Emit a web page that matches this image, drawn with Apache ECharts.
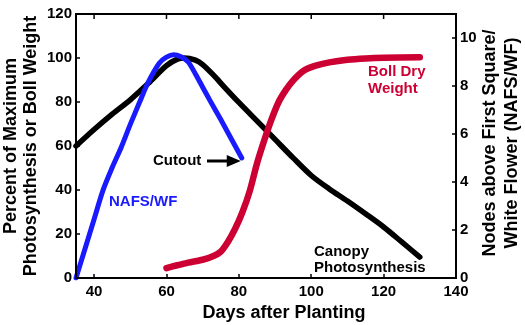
<!DOCTYPE html>
<html>
<head>
<meta charset="utf-8">
<script src="https://cdn.jsdelivr.net/npm/echarts@6/dist/echarts.min.js"></script>
<style>
  html, body { margin: 0; padding: 0; background: #fff; }
  #chart { width: 525px; height: 325px; }
</style>
</head>
<body>
<div id="chart"></div>
<script>
// Days after planting vs. % of maximum (left axis) and nodes above first square / white flower (right axis)
const canopyPhotosynthesis = [
  [35, 60], [40, 67.5], [45, 74.5], [50, 81], [55, 88.5], [60, 96.5], [63, 99.5],
  [65, 100], [68, 99], [70, 97], [73, 92.2], [76, 86.8], [80, 79.8], [85, 71.4],
  [90, 63], [95, 54.6], [100, 46.6], [105, 40.5], [110, 35], [115, 29.2],
  [120, 23.2], [125, 16.4], [130, 9.5]
];
const nafsWf = [
  [35, 0], [40, 2.45], [42.5, 3.67], [45, 4.6], [47.5, 5.45], [50, 6.4], [52.5, 7.3],
  [55, 8.17], [58, 8.95], [60, 9.2], [62, 9.3], [64, 9.22], [66, 9.0], [68, 8.5],
  [70, 7.95], [72, 7.4], [75, 6.6], [78, 5.77], [80.8, 5.0]
];
const bollDryWeight = [
  [60, 4.5], [63, 5.8], [66, 7], [70, 8.3], [73, 10], [75, 12], [77, 16.5], [79, 22.5],
  [81, 30], [83, 39.5], [85, 52], [87, 62.5], [89, 72], [91, 80], [93, 85.5],
  [95, 89.8], [98, 94.3], [101, 96.4], [105, 98], [110, 99.2], [115, 99.8],
  [120, 100.1], [130, 100.3]
];
const dayTicks = [40, 60, 80, 100, 120, 140];
const nodeTicks = [0, 2, 4, 6, 8, 10];

const DAY_MIN = 35, DAY_MAX = 140, PCT_MAX = 120;

const FONT = '"Liberation Sans", Arial, sans-serif';
const BLUE = '#1a1aff';
const CRIMSON = '#cc0033';

const chart = echarts.init(document.getElementById('chart'), null, { renderer: 'canvas' });

const tickLabel = () => ({ color: '#000', fontFamily: FONT, fontWeight: 'bold', fontSize: 15 });
const axisLine = () => ({ show: true, onZero: false, lineStyle: { color: '#000', width: 2 } });
const axisTick = (values) => {
  const t = { show: true, inside: true, length: 4, lineStyle: { color: '#000', width: 1.5 } };
  if (values) t.customValues = values;
  return t;
};

chart.setOption({
  animation: false,
  backgroundColor: '#fff',
  grid: { left: 76, right: 69, top: 14, bottom: 47, containLabel: false, outerBoundsMode: 'none' },
  xAxis: [
    {
      type: 'value', min: DAY_MIN, max: DAY_MAX, position: 'bottom',
      axisLine: axisLine(), axisTick: axisTick(dayTicks),
      axisLabel: Object.assign({ margin: 6, customValues: dayTicks }, tickLabel()),
      splitLine: { show: false }
    }
  ],
  yAxis: [
    {
      type: 'value', min: 0, max: PCT_MAX, interval: 20, position: 'left',
      axisLine: axisLine(), axisTick: axisTick(),
      axisLabel: Object.assign({ margin: 4 }, tickLabel()),
      splitLine: { show: false }
    },
    {
      type: 'value', min: 0, max: 11, position: 'right',
      axisLine: axisLine(), axisTick: axisTick(nodeTicks),
      axisLabel: Object.assign({ margin: 4, customValues: nodeTicks }, tickLabel()),
      splitLine: { show: false }
    }
  ],
  series: [
    {
      name: 'Canopy Photosynthesis', type: 'line', data: canopyPhotosynthesis,
      xAxisIndex: 0, yAxisIndex: 0, smooth: 0.3, showSymbol: false, z: 2,
      lineStyle: { color: '#000', width: 5.5, cap: 'round', join: 'round' }
    },
    {
      name: 'NAFS/WF', type: 'line', data: nafsWf,
      xAxisIndex: 0, yAxisIndex: 1, smooth: 0.3, showSymbol: false, z: 3,
      lineStyle: { color: BLUE, width: 5, cap: 'round', join: 'round' }
    },
    {
      name: 'Boll Dry Weight', type: 'line', data: bollDryWeight,
      xAxisIndex: 0, yAxisIndex: 0, smooth: 0.3, showSymbol: false, z: 4,
      lineStyle: { color: CRIMSON, width: 6.5, cap: 'round', join: 'round' }
    }
  ]
});

const toPx = (pt, yAxisIndex) => chart.convertToPixel({ xAxisIndex: 0, yAxisIndex: yAxisIndex || 0 }, pt);

// Plot frame drawn as one stroked rectangle, with inward ticks along its top edge
const topLeft = toPx([DAY_MIN, PCT_MAX]);
const bottomRight = toPx([DAY_MAX, 0]);
const frame = [{
  type: 'rect', z: 50, silent: true,
  shape: {
    x: topLeft[0], y: topLeft[1],
    width: bottomRight[0] - topLeft[0], height: bottomRight[1] - topLeft[1]
  },
  style: { fill: 'none', stroke: '#000', lineWidth: 2 }
}].concat(dayTicks.map(d => {
  const p = toPx([d, PCT_MAX]);
  return {
    type: 'line', z: 50, silent: true,
    shape: { x1: p[0], y1: p[1], x2: p[0], y2: p[1] + 5 },
    style: { stroke: '#000', lineWidth: 1.5 }
  };
}));

// Cutout arrow points at the last NAFS/WF value
const tip = toPx(nafsWf[nafsWf.length - 1], 1);
const tipX = tip[0] - 1, tipY = tip[1] + 3;

const label = (text, x, y, color) => ({
  type: 'text', x: x, y: y, z: 10,
  style: { text: text, fill: color, font: 'bold 15px ' + FONT, align: 'left', verticalAlign: 'middle' }
});

chart.setOption({
  graphic: frame.concat([
    // axis titles
    {
      type: 'text', x: 21, y: 146, rotation: Math.PI / 2, z: 10,
      style: {
        text: 'Percent of Maximum\nPhotosynthesis or Boll Weight',
        fill: '#000', font: 'bold 18px ' + FONT, lineHeight: 20,
        align: 'center', verticalAlign: 'middle'
      }
    },
    {
      type: 'text', x: 501, y: 143, rotation: Math.PI / 2, z: 10,
      style: {
        text: 'Nodes above First Square/\nWhite Flower (NAFS/WF)',
        fill: '#000', font: 'bold 18px ' + FONT, lineHeight: 22,
        align: 'center', verticalAlign: 'middle'
      }
    },
    {
      type: 'text', x: 284, y: 313, z: 10,
      style: {
        text: 'Days after Planting', fill: '#000', font: 'bold 18px ' + FONT,
        align: 'center', verticalAlign: 'middle'
      }
    },
    // series annotations
    label('NAFS/WF', 109, 202, BLUE),
    label('Cutout', 153, 161, '#000'),
    label('Boll Dry', 368, 72, CRIMSON),
    label('Weight', 368, 89, CRIMSON),
    label('Canopy', 314, 252, '#000'),
    label('Photosynthesis', 314, 268, '#000'),
    {
      type: 'line', z: 10,
      shape: { x1: 207, y1: tipY, x2: tipX - 10, y2: tipY },
      style: { stroke: '#000', lineWidth: 3 }
    },
    {
      type: 'polygon', z: 10,
      shape: { points: [[tipX, tipY], [tipX - 14, tipY - 6], [tipX - 14, tipY + 6]] },
      style: { fill: '#000' }
    }
  ])
});
</script>
</body>
</html>
